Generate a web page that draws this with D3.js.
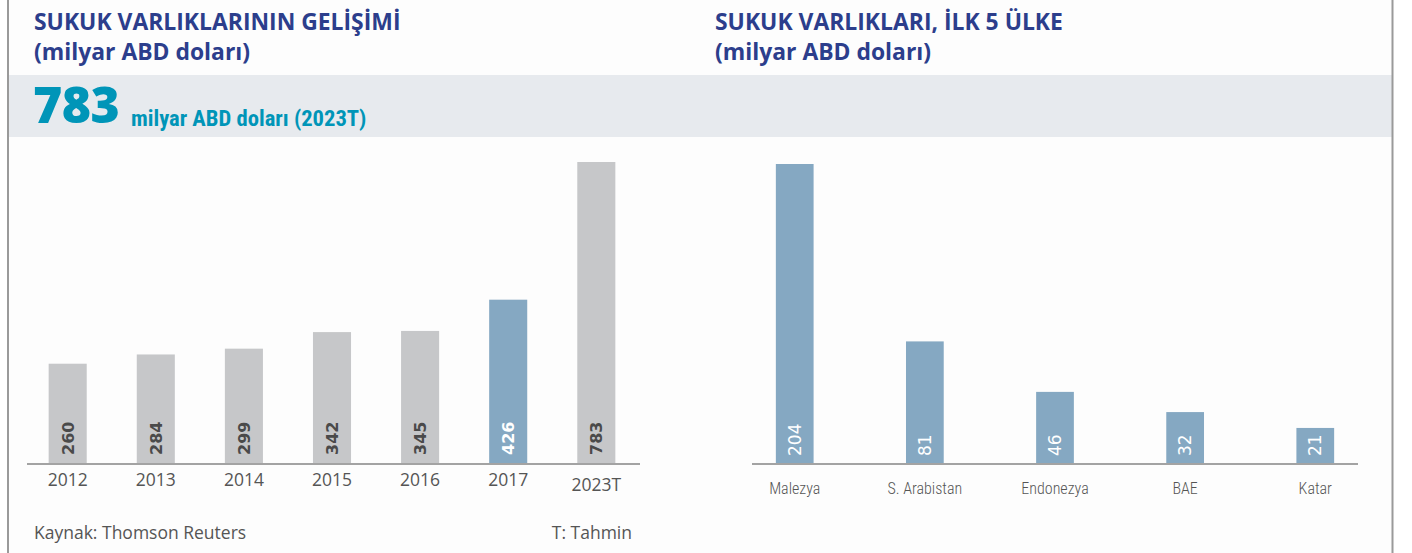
<!DOCTYPE html>
<html>
<head>
<meta charset="utf-8">
<script src="https://cdn.jsdelivr.net/npm/d3@7"></script>
<style>
  html, body { margin: 0; padding: 0; background: #ffffff; }
  svg { display: block; }
</style>
</head>
<body>
<svg id="chart" width="1412" height="553"></svg>
<script>
// Sukuk assets: yearly growth and top 5 countries (billion USD)
const years = ["2012", "2013", "2014", "2015", "2016", "2017", "2023T"];
const yearValues = [260, 284, 299, 342, 345, 426, 783];
const highlightYear = "2017";

const countries = ["Malezya", "S. Arabistan", "Endonezya", "BAE", "Katar"];
const countryValues = [204, 81, 46, 32, 21];

const leftTitle = ["SUKUK VARLIKLARININ GELİŞİMİ", "(milyar ABD doları)"];
const rightTitle = ["SUKUK VARLIKLARI, İLK 5 ÜLKE", "(milyar ABD doları)"];
const headline = "783";
const headlineNote = "milyar ABD doları (2023T)";
const sourceNote = "Kaynak: Thomson Reuters";
const estimateNote = "T: Tahmin";

const NAVY = "#2c3e8c";
const TEAL = "#0095b8";
const GREY_BAR = "#c6c7c9";
const BLUE_BAR = "#85a8c2";
const AXIS = "#a3a3a3";
const TEXT = "#555555";
const condensed = "'Roboto Condensed', 'Liberation Sans Narrow', sans-serif";
const humanist = "'Open Sans', 'Noto Sans', sans-serif";

const svg = d3.select("#chart");

// page frame
svg.append("rect").attr("x", 8).attr("y", 0).attr("width", 1385).attr("height", 553).attr("fill", "#fdfdfd");
svg.append("rect").attr("x", 9).attr("y", 75).attr("width", 1383).attr("height", 62).attr("fill", "#e7eaee");
svg.append("line").attr("x1", 8).attr("x2", 8).attr("y1", 0).attr("y2", 553).attr("stroke", "#9a9a9a").attr("stroke-width", 2);
svg.append("line").attr("x1", 1392.5).attr("x2", 1392.5).attr("y1", 0).attr("y2", 553).attr("stroke", "#9a9a9a").attr("stroke-width", 2);

// titles
function title(lines, x) {
  const t = svg.append("text").attr("fill", NAVY).attr("font-family", humanist)
    .attr("font-weight", 700).attr("font-size", 22.9);
  lines.forEach((s, i) => t.append("tspan").attr("x", x).attr("y", 30 + i * 30).text(s));
}
title(leftTitle, 34);
title(rightTitle, 715);

// headline figure
svg.append("text").attr("x", 33).attr("y", 123).attr("fill", TEAL)
  .attr("font-family", humanist).attr("font-weight", 800).attr("font-size", 50)
  .attr("letter-spacing", -0.5)
  .text(headline);
svg.append("text").attr("x", 131).attr("y", 126).attr("fill", TEAL)
  .attr("font-family", condensed).attr("font-weight", 700).attr("font-size", 22.6)
  .text(headlineNote);

const baseY = 464;

// ---- left chart: growth by year
const xL = d3.scaleBand().domain(years).range([24, 640]).paddingInner(0.568).paddingOuter(0.28);
const yL = d3.scaleLinear().domain([0, 783]).range([baseY, 162]);

const gL = svg.append("g");
gL.selectAll("rect").data(years).join("rect")
  .attr("x", d => xL(d))
  .attr("width", xL.bandwidth())
  .attr("y", (d, i) => yL(yearValues[i]))
  .attr("height", (d, i) => baseY - yL(yearValues[i]))
  .attr("fill", d => d === highlightYear ? BLUE_BAR : GREY_BAR);

gL.selectAll("text.val").data(years).join("text").attr("class", "val")
  .attr("transform", d => `translate(${xL(d) + xL.bandwidth() / 2 + 6},${baseY - 9}) rotate(-90)`)
  .attr("font-family", "'DejaVu Sans', sans-serif").attr("font-weight", 700).attr("font-size", 16)
  .attr("fill", d => d === highlightYear ? "#ffffff" : "#4a4a4a")
  .text((d, i) => yearValues[i]);

const axL = svg.append("g").attr("transform", `translate(0,${baseY})`)
  .call(d3.axisBottom(xL).tickSize(0).tickPadding(10));
axL.select(".domain").attr("stroke", AXIS).attr("stroke-width", 2).attr("d", "M27,0H640");
axL.selectAll("text").attr("font-family", humanist).attr("font-size", 17.5).attr("fill", TEXT)
  .attr("dy", (d) => d === "2023T" ? "0.95em" : "0.71em");

// ---- right chart: top 5 countries
const xR = d3.scaleBand().domain(countries).range([729, 1381]).paddingInner(0.71).paddingOuter(0.36);
const yR = d3.scaleLinear().domain([-4, 204]).range([baseY, 164]);

const gR = svg.append("g");
gR.selectAll("rect").data(countries).join("rect")
  .attr("x", d => xR(d))
  .attr("width", xR.bandwidth())
  .attr("y", (d, i) => yR(countryValues[i]))
  .attr("height", (d, i) => baseY - yR(countryValues[i]))
  .attr("fill", BLUE_BAR);

gR.selectAll("text.val").data(countries).join("text").attr("class", "val")
  .attr("transform", d => `translate(${xR(d) + xR.bandwidth() / 2 + 6},${baseY - 8}) rotate(-90)`)
  .attr("font-family", "'DejaVu Sans', sans-serif").attr("font-weight", 400).attr("font-size", 17)
  .attr("fill", "#ffffff")
  .text((d, i) => countryValues[i]);

const axR = svg.append("g").attr("transform", `translate(0,${baseY})`)
  .call(d3.axisBottom(xR).tickSize(0).tickPadding(19));
axR.select(".domain").attr("stroke", AXIS).attr("stroke-width", 2).attr("d", "M752,0H1358");
axR.selectAll("text").attr("font-family", condensed).attr("font-weight", 300)
  .attr("font-size", 16).attr("fill", TEXT);

// footnotes
svg.append("text").attr("x", 34).attr("y", 539).attr("fill", TEXT)
  .attr("font-family", humanist).attr("font-size", 17.5).text(sourceNote);
svg.append("text").attr("x", 632).attr("y", 539).attr("text-anchor", "end").attr("fill", TEXT)
  .attr("font-family", humanist).attr("font-size", 17.5).text(estimateNote);
</script>
</body>
</html>
